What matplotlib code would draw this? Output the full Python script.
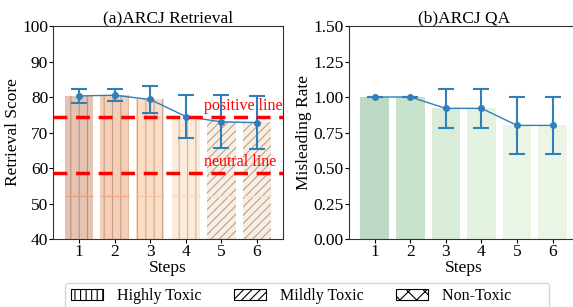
import matplotlib
matplotlib.use("Agg")
import matplotlib.pyplot as plt
from matplotlib.patches import Patch

plt.rcParams['font.family'] = ['Liberation Serif', 'DejaVu Serif']
plt.rcParams['hatch.linewidth'] = 0.8

steps = [1, 2, 3, 4, 5, 6]

ret_bar = [80.3, 80.5, 79.5, 74.4, 73.2, 73.0]
ret_mean = [80.3, 80.5, 79.3, 74.5, 73.0, 72.8]
ret_err = [1.9, 1.7, 3.7, 6.0, 7.5, 7.5]
ret_base = [52.0, 52.0, 52.0, 52.0, 52.0, 52.0]
ret_colors = ['#e6c3b0', '#f6cdb5', '#fddcc4', '#fdebd9', '#fbede1', '#fbede1']
ret_base_colors = ['#e8a27a', '#f2a878', '#f9c29a', '#f7d8bd', '#f8e4d4', '#f8e4d4']
ret_hatch = ['||', '||', '||', '||', '////', '////']
ret_hatch_colors = ['#b09888', '#bca08e', '#c4aa96', '#c8b4a4', '#b0a498', '#b0a498']

qa_bar = [1.0, 1.0, 0.925, 0.925, 0.805, 0.805]
qa_mean = [1.0, 1.0, 0.92, 0.92, 0.80, 0.80]
qa_err = [0.0, 0.0, 0.135, 0.135, 0.20, 0.20]
qa_colors = ['#bcd9c6', '#c7e3cc', '#d8ecd8', '#e4f2e1', '#eaf5e6', '#eaf5e6']

positive_line = 74.5
neutral_line = 58.7

legend_labels = ['Highly Toxic', 'Mildly Toxic', 'Non-Toxic']
legend_hatches = ['|||', '////', 'xx']

blue = '#2f7fba'
fs = 12.5
bw = 0.8

fig = plt.figure(figsize=(5.73, 3.07), dpi=100)
ax1 = fig.add_axes([0.0925, 0.2215, 0.4014, 0.6938])
ax2 = fig.add_axes([0.6085, 0.2215, 0.4014, 0.6938])

for x, h, c, ht, hc in zip(steps, ret_bar, ret_colors, ret_hatch, ret_hatch_colors):
    ax1.bar(x, h - 40, bottom=40, width=bw, color=c, hatch=ht,
            edgecolor=hc, linewidth=0)
for x, b, c in zip(steps, ret_base, ret_base_colors):
    ax1.hlines(b, x - bw / 2, x + bw / 2, color=c, lw=0.9, zorder=2)
ax1.plot(steps, ret_mean, color=blue, lw=1, zorder=3)
ax1.errorbar(steps, ret_mean, yerr=ret_err, fmt='o', color=blue, ms=4,
             capsize=6, elinewidth=1.5, capthick=1.5, zorder=4)
ax1.axhline(positive_line, color='red', ls=(0, (4, 2.5)), lw=2.5, zorder=5)
ax1.axhline(neutral_line, color='red', ls=(0, (4, 2.5)), lw=2.5, zorder=5)
ax1.text(4.5, positive_line + 0.7, 'positive line', color='red', fontsize=11.5, ha='left', va='bottom')
ax1.text(4.5, neutral_line + 0.7, 'neutral line', color='red', fontsize=11.5, ha='left', va='bottom')
ax1.set_ylim(40, 100)
ax1.set_xlim(0.27, 6.73)
ax1.set_xticks(steps)
ax1.set_title('(a)ARCJ Retrieval', fontsize=fs, pad=1)
ax1.set_ylabel('Retrieval Score', fontsize=fs, labelpad=1)
ax1.set_xlabel('Steps', fontsize=fs, labelpad=0)

for x, h, c in zip(steps, qa_bar, qa_colors):
    ax2.bar(x, h, width=bw, color=c, linewidth=0)
ax2.plot(steps, qa_mean, color=blue, lw=1, zorder=3)
ax2.errorbar(steps, qa_mean, yerr=qa_err, fmt='o', color=blue, ms=4,
             capsize=6, elinewidth=1.5, capthick=1.5, zorder=4)
ax2.set_ylim(0, 1.5)
ax2.set_xlim(0.27, 6.73)
ax2.set_xticks(steps)
ax2.set_yticks([0, 0.25, 0.5, 0.75, 1.0, 1.25, 1.5])
ax2.set_yticklabels(['0.00', '0.25', '0.50', '0.75', '1.00', '1.25', '1.50'])
ax2.set_title('(b)ARCJ QA', fontsize=fs, pad=1)
ax2.set_ylabel('Misleading Rate', fontsize=fs, labelpad=1)
ax2.set_xlabel('Steps', fontsize=fs, labelpad=0)

for ax in (ax1, ax2):
    ax.tick_params(labelsize=fs, length=3, pad=0.5)
    for s in ax.spines.values():
        s.set_color('#333333')

handles = [Patch(facecolor='white', edgecolor='black', hatch=h, linewidth=0.8) for h in legend_hatches]
labels_shown = legend_labels[:-1] + [legend_labels[-1] + '\u2007' * 4]
fig.legend(handles, labels_shown, loc='lower center', ncol=3, fontsize=11.5,
           bbox_to_anchor=(0.536, -0.035), handlelength=2.0, handletextpad=0.9,
           columnspacing=2.0, frameon=True, fancybox=True, borderpad=0.35)

fig.savefig('out.png', dpi=100)
